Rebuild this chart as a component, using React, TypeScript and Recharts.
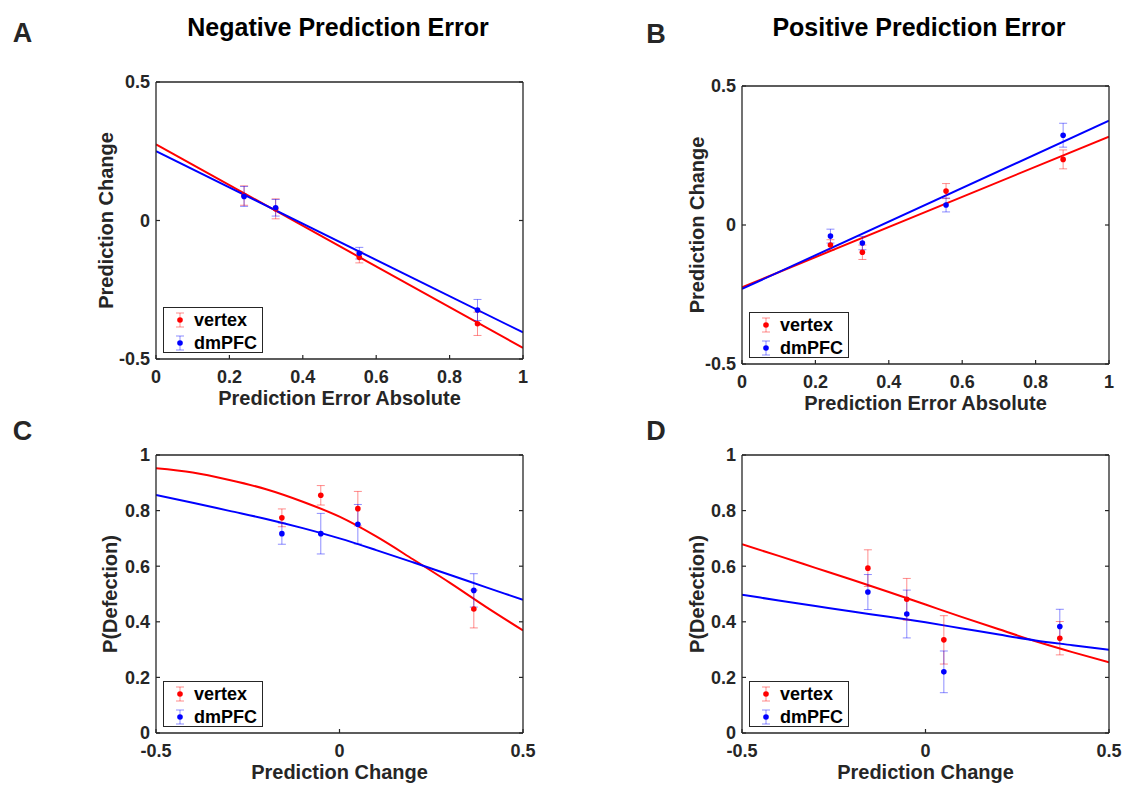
import { ComposedChart, XAxis, YAxis, Scatter, Line, ErrorBar, Label } from 'recharts';

const FONT = '"Liberation Sans", Arial, Helvetica, sans-serif';
const AXIS = '#262626';
const TICK_LEN = 4;

const regionNames = ['vertex', 'dmPFC'];
const seriesColors = ['#ff0000', '#0000ff'];
const errorColors = ['rgba(255,0,0,0.45)', 'rgba(0,0,255,0.45)'];

const panelTitles = ['Negative Prediction Error', 'Positive Prediction Error'];
const panelLetters = ['A', 'B', 'C', 'D'];

// ticks
const peTicks = [0, 0.2, 0.4, 0.6, 0.8, 1];
const changeTicksY = [-0.5, 0, 0.5];
const changeTicksX = [-0.5, 0, 0.5];
const probTicks = [0, 0.2, 0.4, 0.6, 0.8, 1];

// A - negative prediction error
const negPeX = [0.24, 0.326, 0.554, 0.876];
const negVertexY = [0.09, 0.042, -0.133, -0.373];
const negVertexErr = [0.035, 0.036, 0.02, 0.042];
const negDmpfcY = [0.087, 0.046, -0.118, -0.323];
const negDmpfcErr = [0.036, 0.03, 0.021, 0.038];
const fitX = [0, 1];
const negVertexFit = [0.275, -0.46];
const negDmpfcFit = [0.25, -0.404];

// B - positive prediction error
const posPeX = [0.241, 0.328, 0.556, 0.875];
const posVertexY = [-0.072, -0.098, 0.122, 0.236];
const posVertexErr = [0.019, 0.026, 0.027, 0.034];
const posDmpfcY = [-0.04, -0.065, 0.072, 0.323];
const posDmpfcErr = [0.025, 0.024, 0.025, 0.043];
const posVertexFit = [-0.224, 0.318];
const posDmpfcFit = [-0.23, 0.375];

// C / D - P(Defection) vs prediction change
const changeX = [-0.157, -0.051, 0.05, 0.366];
const curveX = [-0.5, -0.4, -0.3, -0.2, -0.1, 0, 0.1, 0.2, 0.3, 0.4, 0.5];

const cVertexY = [0.774, 0.855, 0.807, 0.446];
const cVertexErr = [0.032, 0.035, 0.062, 0.068];
const cDmpfcY = [0.717, 0.717, 0.751, 0.513];
const cDmpfcErr = [0.038, 0.073, 0.071, 0.06];
const cVertexCurve = [0.952, 0.937, 0.91, 0.877, 0.832, 0.778, 0.707, 0.625, 0.541, 0.453, 0.369];
const cDmpfcCurve = [0.856, 0.828, 0.799, 0.77, 0.737, 0.7, 0.658, 0.614, 0.569, 0.524, 0.479];

const dVertexY = [0.593, 0.481, 0.335, 0.341];
const dVertexErr = [0.066, 0.075, 0.087, 0.06];
const dDmpfcY = [0.507, 0.428, 0.22, 0.383];
const dDmpfcErr = [0.063, 0.086, 0.075, 0.062];
const dVertexCurve = [0.679, 0.637, 0.594, 0.551, 0.507, 0.462, 0.417, 0.373, 0.33, 0.291, 0.254];
const dDmpfcCurve = [0.497, 0.477, 0.457, 0.437, 0.418, 0.398, 0.376, 0.354, 0.333, 0.316, 0.299];

const toPoints = (xs: number[], ys: number[], errs: number[]) =>
  xs.map((x, i) => ({ x, y: ys[i], err: errs[i] }));
const toCurve = (xs: number[], ys: number[]) => xs.map((x, i) => ({ x, y: ys[i] }));

const axisLine = { stroke: AXIS, strokeWidth: 1.3 };
const tickText = { fontSize: 18, fontWeight: 700, fill: AXIS, fontFamily: FONT };
const labelStyle = { fontSize: 20, fontWeight: 700, fill: AXIS, fontFamily: FONT, textAnchor: 'middle' as const };

function BottomTick(props: any) {
  const { x, y, payload } = props;
  return (
    <g>
      <line x1={x} y1={y} x2={x} y2={y - TICK_LEN} stroke={AXIS} strokeWidth={1.2} />
      <text x={x} y={y + 24} textAnchor="middle" {...tickText}>{payload.value}</text>
    </g>
  );
}

function TopTick(props: any) {
  const { x, y } = props;
  return <line x1={x} y1={y} x2={x} y2={y + TICK_LEN} stroke={AXIS} strokeWidth={1.2} />;
}

function LeftTick(props: any) {
  const { x, y, payload } = props;
  return (
    <g>
      <line x1={x} y1={y} x2={x + TICK_LEN} y2={y} stroke={AXIS} strokeWidth={1.2} />
      <text x={x - 6} y={y + 6.4} textAnchor="end" {...tickText}>{payload.value}</text>
    </g>
  );
}

function RightTick(props: any) {
  const { x, y } = props;
  return <line x1={x} y1={y} x2={x - TICK_LEN} y2={y} stroke={AXIS} strokeWidth={1.2} />;
}

type Pt = { x: number; y: number; err: number };
type CurvePt = { x: number; y: number };

type PanelProps = {
  left: number;
  top: number;
  width: number;
  height: number;
  xDomain: [number, number];
  xTicks: number[];
  yDomain: [number, number];
  yTicks: number[];
  xLabel: string;
  yLabel: string;
  yLabelGap: number;
  points: Pt[][];
  fits: CurvePt[][];
  curveType: 'linear' | 'monotone';
};

function Panel(p: PanelProps) {
  const padL = 100;
  const padT = 20;
  const padR = 20;
  const padB = 60;
  return (
    <div style={{ position: 'absolute', left: p.left - padL, top: p.top - padT }}>
      <ComposedChart
        width={p.width + padL + padR}
        height={p.height + padT + padB}
        margin={{ top: padT - 1, right: padR - 1, bottom: padB - 40, left: padL - 60 }}
      >
        <XAxis
          dataKey="x"
          type="number"
          domain={p.xDomain}
          ticks={p.xTicks}
          interval={0}
          allowDataOverflow
          height={40}
          tickSize={0}
          tickMargin={0}
          tickLine={false}
          tick={BottomTick}
          axisLine={axisLine}
        >
          <Label value={p.xLabel} position="insideTop" offset={32} style={labelStyle} />
        </XAxis>
        <XAxis
          xAxisId="top"
          orientation="top"
          type="number"
          domain={p.xDomain}
          ticks={p.xTicks}
          interval={0}
          allowDataOverflow
          height={1}
          tickSize={0}
          tickMargin={0}
          tickLine={false}
          tick={TopTick}
          axisLine={axisLine}
        />
        <YAxis
          type="number"
          domain={p.yDomain}
          ticks={p.yTicks}
          interval={0}
          allowDataOverflow
          width={60}
          tickSize={0}
          tickMargin={0}
          tickLine={false}
          tick={LeftTick}
          axisLine={axisLine}
        >
          <Label value={p.yLabel} angle={-90} position="insideLeft" offset={60 - p.yLabelGap} style={labelStyle} />
        </YAxis>
        <YAxis
          yAxisId="right"
          orientation="right"
          type="number"
          domain={p.yDomain}
          ticks={p.yTicks}
          interval={0}
          allowDataOverflow
          width={1}
          tickSize={0}
          tickMargin={0}
          tickLine={false}
          tick={RightTick}
          axisLine={axisLine}
        />
        {p.fits.map((f, i) => (
          <Line
            key={`fit-${i}`}
            data={f}
            dataKey="y"
            type={p.curveType}
            stroke={seriesColors[i]}
            strokeWidth={2}
            dot={false}
            activeDot={false}
            isAnimationActive={false}
          />
        ))}
        {p.points.map((pts, i) => (
          <Scatter
            key={`pts-${i}`}
            name={regionNames[i]}
            data={pts}
            dataKey="y"
            isAnimationActive={false}
            shape={(s: any) => <circle cx={s.cx} cy={s.cy} r={2.8} fill={seriesColors[i]} />}
          >
            <ErrorBar dataKey="err" direction="y" width={4} stroke={errorColors[i]} strokeWidth={1} />
          </Scatter>
        ))}
      </ComposedChart>
    </div>
  );
}

function LegendBox({ left, top }: { left: number; top: number }) {
  return (
    <div
      style={{
        position: 'absolute',
        left,
        top,
        width: 98,
        height: 44,
        border: `1.3px solid ${AXIS}`,
        background: '#fff',
      }}
    >
      {regionNames.map((name, i) => (
        <div key={name} style={{ position: 'absolute', left: 0, top: (i === 0 ? 12 : 35) - 10, height: 20, width: 98 }}>
          <svg width={32} height={20} style={{ position: 'absolute', left: 0, top: 0 }}>
            <line x1={16} x2={16} y1={3} y2={17} stroke={errorColors[i]} strokeWidth={1} />
            <line x1={12} x2={20} y1={3} y2={3} stroke={errorColors[i]} strokeWidth={1} />
            <line x1={12} x2={20} y1={17} y2={17} stroke={errorColors[i]} strokeWidth={1} />
            <circle cx={16} cy={10} r={2.8} fill={seriesColors[i]} />
          </svg>
          <span
            style={{
              position: 'absolute',
              left: 30,
              top: 0,
              lineHeight: '20px',
              fontSize: 18,
              fontWeight: 700,
              color: '#000',
              fontFamily: FONT,
            }}
          >
            {name}
          </span>
        </div>
      ))}
    </div>
  );
}

const plotW = 367;
const plotH = 278;
const frames = [
  { left: 156, top: 82 },
  { left: 742, top: 86 },
  { left: 156, top: 455 },
  { left: 742, top: 455 },
];
const letterPos = [
  { x: 22.5, y: 33 },
  { x: 656, y: 34 },
  { x: 22.5, y: 431 },
  { x: 656, y: 431 },
];
const titlePos = [
  { x: 338, y: 27 },
  { x: 919, y: 27 },
];

export default function App() {
  return (
    <div
      style={{
        position: 'absolute',
        left: 0,
        top: 0,
        width: 1125,
        height: 785,
        background: '#fff',
        fontFamily: FONT,
        overflow: 'hidden',
      }}
    >
      {panelTitles.map((t, i) => (
        <div
          key={t}
          style={{
            position: 'absolute',
            left: titlePos[i].x - 250,
            top: titlePos[i].y - 12.5,
            width: 500,
            textAlign: 'center',
            fontSize: 25,
            lineHeight: '25px',
            fontWeight: 700,
            color: '#000',
          }}
        >
          {t}
        </div>
      ))}
      {panelLetters.map((l, i) => (
        <div
          key={l}
          style={{
            position: 'absolute',
            left: letterPos[i].x - 20,
            top: letterPos[i].y - 13,
            width: 40,
            textAlign: 'center',
            fontSize: 27,
            lineHeight: '27px',
            fontWeight: 700,
            color: '#262626',
          }}
        >
          {l}
        </div>
      ))}

      <Panel
        {...frames[0]}
        width={plotW}
        height={277}
        xDomain={[0, 1]}
        xTicks={peTicks}
        yDomain={[-0.5, 0.5]}
        yTicks={changeTicksY}
        xLabel="Prediction Error Absolute"
        yLabel="Prediction Change"
        yLabelGap={50}
        curveType="linear"
        points={[toPoints(negPeX, negVertexY, negVertexErr), toPoints(negPeX, negDmpfcY, negDmpfcErr)]}
        fits={[toCurve(fitX, negVertexFit), toCurve(fitX, negDmpfcFit)]}
      />
      <Panel
        {...frames[1]}
        width={plotW}
        height={plotH}
        xDomain={[0, 1]}
        xTicks={peTicks}
        yDomain={[-0.5, 0.5]}
        yTicks={changeTicksY}
        xLabel="Prediction Error Absolute"
        yLabel="Prediction Change"
        yLabelGap={45.5}
        curveType="linear"
        points={[toPoints(posPeX, posVertexY, posVertexErr), toPoints(posPeX, posDmpfcY, posDmpfcErr)]}
        fits={[toCurve(fitX, posVertexFit), toCurve(fitX, posDmpfcFit)]}
      />
      <Panel
        {...frames[2]}
        width={plotW}
        height={plotH}
        xDomain={[-0.5, 0.5]}
        xTicks={changeTicksX}
        yDomain={[0, 1]}
        yTicks={probTicks}
        xLabel="Prediction Change"
        yLabel="P(Defection)"
        yLabelGap={46}
        curveType="monotone"
        points={[toPoints(changeX, cVertexY, cVertexErr), toPoints(changeX, cDmpfcY, cDmpfcErr)]}
        fits={[toCurve(curveX, cVertexCurve), toCurve(curveX, cDmpfcCurve)]}
      />
      <Panel
        {...frames[3]}
        width={plotW}
        height={plotH}
        xDomain={[-0.5, 0.5]}
        xTicks={changeTicksX}
        yDomain={[0, 1]}
        yTicks={probTicks}
        xLabel="Prediction Change"
        yLabel="P(Defection)"
        yLabelGap={45.5}
        curveType="monotone"
        points={[toPoints(changeX, dVertexY, dVertexErr), toPoints(changeX, dDmpfcY, dDmpfcErr)]}
        fits={[toCurve(curveX, dVertexCurve), toCurve(curveX, dDmpfcCurve)]}
      />

      <LegendBox left={frames[0].left + 7} top={frames[0].top + 277 - 52} />
      <LegendBox left={frames[1].left + 7} top={frames[1].top + plotH - 52} />
      <LegendBox left={frames[2].left + 7} top={frames[2].top + plotH - 52} />
      <LegendBox left={frames[3].left + 7} top={frames[3].top + plotH - 52} />
    </div>
  );
}
